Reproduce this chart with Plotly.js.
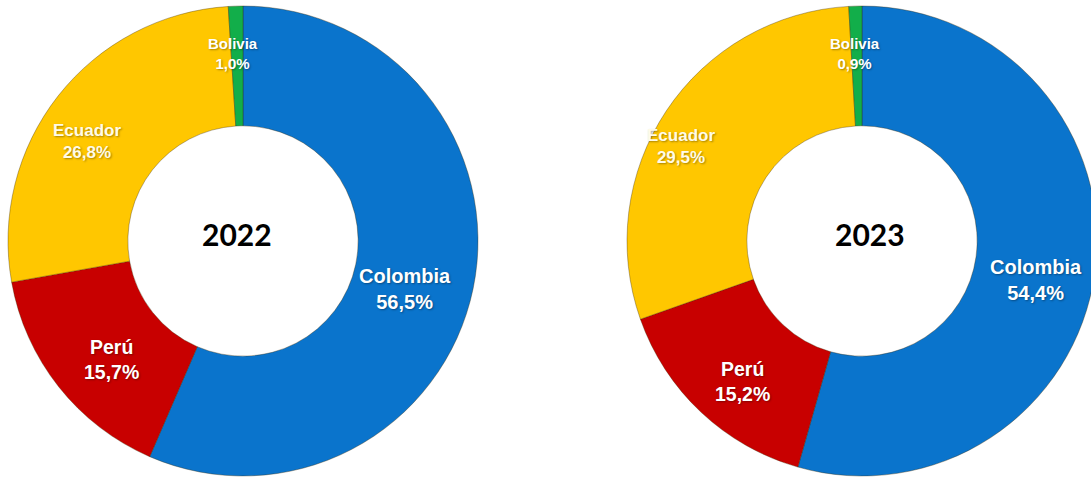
<!DOCTYPE html>
<html>
<head>
<meta charset="utf-8">
<script src="https://cdn.plot.ly/plotly-3.0.1.min.js"></script>
<style>
html,body{margin:0;padding:0;background:#fff;overflow:hidden;}
#chart{width:1100px;height:479px;}
</style>
</head>
<body>
<div id="chart"></div>
<script>
// ---- data ----
var countries = ["Colombia", "Perú", "Ecuador", "Bolivia"];
var years = ["2022", "2023"];
var shares2022 = [56.5, 15.7, 26.8, 1.0];
var shares2023 = [54.4, 15.2, 29.5, 0.9];

// ---- style ----
var sliceColors = ["#0A74CC", "#C80000", "#FFC700", "#12AE4A"];
var textSizes = [20, 19.5, 17, 15];
var textColors = ["#ffffff", "#ffffff", "#fffbe8", "#ffffff"];
var shadow = "1px 1px 2px rgba(0,0,0,0.35)";
// label block centres in pixels (layout only)
var labelPos2022 = [[405, 289], [111, 359], [87, 141], [233, 53]];
var labelPos2023 = [[1036, 280], [742, 381], [681, 146], [855, 53]];
var yearPos = [[237, 234], [870, 234]];

var W = 1100, H = 479;

function fmt(v){ return v.toFixed(1).replace(".", ",") + "%"; }

function donut(values, xdom){
  return {
    type: "pie",
    labels: countries,
    values: values,
    sort: false,
    direction: "clockwise",
    rotation: 0,
    hole: 0.49,
    domain: {x: xdom, y: [3/H, 473/H]},
    marker: {colors: sliceColors, line: {color: "rgba(60,40,0,0.35)", width: 1}},
    textinfo: "none",
    hoverinfo: "none",
    showlegend: false
  };
}

var data = [
  donut(shares2022, [8/W, 478/W]),
  donut(shares2023, [627/W, 1097/W])
];

function ann(px, py, text, font){
  return {x: px / W, y: 1 - py / H, xref: "paper", yref: "paper",
          xanchor: "center", yanchor: "middle", showarrow: false,
          text: text, font: font};
}

var annotations = [];
[[shares2022, labelPos2022], [shares2023, labelPos2023]].forEach(function(pair){
  var vals = pair[0], pos = pair[1];
  countries.forEach(function(c, i){
    annotations.push(ann(pos[i][0], pos[i][1],
      "<b>" + c + "<br>" + fmt(vals[i]) + "</b>",
      {family: "Liberation Sans, Arial, sans-serif", size: textSizes[i], color: textColors[i], shadow: shadow}));
  });
});
years.forEach(function(y, i){
  annotations.push(ann(yearPos[i][0], yearPos[i][1], "<b>" + y + "</b>",
    {family: "Lato, sans-serif", size: 30, color: "#000000"}));
});

var layout = {
  width: W, height: H,
  margin: {l: 0, r: 0, t: 0, b: 0},
  paper_bgcolor: "#ffffff",
  separators: ",.",
  annotations: annotations,
  hovermode: false
};

Plotly.newPlot("chart", data, layout, {displayModeBar: false, staticPlot: true});
</script>
</body>
</html>
